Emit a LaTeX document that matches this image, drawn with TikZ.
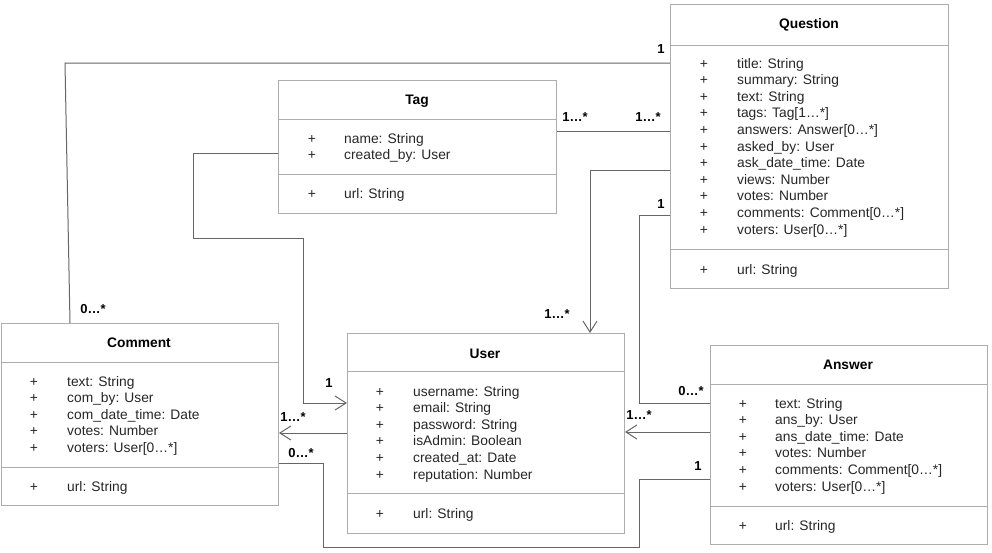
\documentclass[tikz,border=0pt]{standalone}
\usepackage{fontspec}
\setmainfont{Liberation Sans}
\usetikzlibrary{arrows.meta}
\definecolor{boxgray}{HTML}{ADADAD}
\definecolor{linkgray}{HTML}{666666}

\begin{document}
\begin{tikzpicture}[x=1pt, y=-1pt, font=\fontsize{13.8}{16.6}\selectfont]
  \tikzset{ClassStyle/.style={draw=boxgray, line width=1pt, anchor=north west,
      inner sep=0pt}}
  \tikzset{Divider/.style={draw=boxgray, line width=1pt}}
  \tikzset{TitleStyle/.style={anchor=base, inner sep=0pt, font=\fontsize{13.8}{16.6}\selectfont\bfseries}}
  \tikzset{AttrStyle/.style={anchor=base west, inner sep=0pt, text=black!85}}
  \tikzset{PlusStyle/.style={anchor=base, inner sep=0pt, text=black!85}}
  \tikzset{Link/.style={draw=linkgray, line width=1pt}}
  \tikzset{Open/.style={-{Straight Barb[length=11pt, width=14pt]}}}
  \tikzset{Mult/.style={inner sep=0pt, font=\fontsize{13}{15}\selectfont\bfseries}}

  \useasboundingbox (0,0) rectangle (992,552);

  % Question
  \node[ClassStyle, minimum width=278pt, minimum height=284pt] (question) at (670,4) {};
  \node[TitleStyle] (question-name) at (809,28) {Question};
  \draw[Divider] (question.west |- 0,45) -- (question.east |- 0,45);
  \draw[Divider] (question.west |- 0,249) -- (question.east |- 0,249);
  \foreach \a [count=\i from 0] in {title: String, summary: String, text: String,
      {tags: Tag[1…*]}, {answers: Answer[0…*]}, asked\_by: User, ask\_date\_time: Date,
      views: Number, votes: Number, {comments: Comment[0…*]}, {voters: User[0…*]}}
    {\node[PlusStyle] (question-p\i) at (704,68+16.6*\i) {+};
     \node[AttrStyle] (question-a\i) at (737,68+16.6*\i) {\a};}
  \node[PlusStyle] (question-pm) at (704,274) {+};
  \node[AttrStyle] (question-m) at (737,274) {url: String};

  % Tag
  \node[ClassStyle, minimum width=278pt, minimum height=133pt] (tag) at (278,80) {};
  \node[TitleStyle] (tag-name) at (417,104) {Tag};
  \draw[Divider] (tag.west |- 0,119) -- (tag.east |- 0,119);
  \draw[Divider] (tag.west |- 0,174) -- (tag.east |- 0,174);
  \foreach \a [count=\i from 0] in {name: String, created\_by: User}
    {\node[PlusStyle] (tag-p\i) at (312,143+16.6*\i) {+};
     \node[AttrStyle] (tag-a\i) at (344,143+16.6*\i) {\a};}
  \node[PlusStyle] (tag-pm) at (312,198) {+};
  \node[AttrStyle] (tag-m) at (344,198) {url: String};

  % Comment
  \node[ClassStyle, minimum width=277.5pt, minimum height=182pt] (comment) at (0.5,323) {};
  \node[TitleStyle] (comment-name) at (139,347) {Comment};
  \draw[Divider] (comment.west |- 0,362) -- (comment.east |- 0,362);
  \draw[Divider] (comment.west |- 0,467) -- (comment.east |- 0,467);
  \foreach \a [count=\i from 0] in {text: String, com\_by: User, com\_date\_time: Date,
      votes: Number, {voters: User[0…*]}}
    {\node[PlusStyle] (comment-p\i) at (34,386+16.6*\i) {+};
     \node[AttrStyle] (comment-a\i) at (67,386+16.6*\i) {\a};}
  \node[PlusStyle] (comment-pm) at (34,491) {+};
  \node[AttrStyle] (comment-m) at (67,491) {url: String};

  % User
  \node[ClassStyle, minimum width=277pt, minimum height=200pt] (user) at (347,333) {};
  \node[TitleStyle] (user-name) at (485,358) {User};
  \draw[Divider] (user.west |- 0,371) -- (user.east |- 0,371);
  \draw[Divider] (user.west |- 0,493) -- (user.east |- 0,493);
  \foreach \a [count=\i from 0] in {username: String, email: String, password: String,
      isAdmin: Boolean, created\_at: Date, reputation: Number}
    {\node[PlusStyle] (user-p\i) at (380,396+16.6*\i) {+};
     \node[AttrStyle] (user-a\i) at (413,396+16.6*\i) {\a};}
  \node[PlusStyle] (user-pm) at (380,518) {+};
  \node[AttrStyle] (user-m) at (413,518) {url: String};

  % Answer
  \node[ClassStyle, minimum width=277pt, minimum height=199pt] (answer) at (710,345) {};
  \node[TitleStyle] (answer-name) at (848,369) {Answer};
  \draw[Divider] (answer.west |- 0,384) -- (answer.east |- 0,384);
  \draw[Divider] (answer.west |- 0,506) -- (answer.east |- 0,506);
  \foreach \a [count=\i from 0] in {text: String, ans\_by: User, ans\_date\_time: Date,
      votes: Number, {comments: Comment[0…*]}, {voters: User[0…*]}}
    {\node[PlusStyle] (answer-p\i) at (743,408+16.6*\i) {+};
     \node[AttrStyle] (answer-a\i) at (775,408+16.6*\i) {\a};}
  \node[PlusStyle] (answer-pm) at (743,530) {+};
  \node[AttrStyle] (answer-m) at (775,530) {url: String};

  % associations
  \draw[Link] (question.west |- 0,63) -- (65,63) -- (comment.north -| 70,0);
  \node[Mult] (m-qc1) at (661,49) {1};
  \node[Mult] (m-qc2) at (93,309) {0…*};

  \draw[Link] (tag.east |- 0,131) -- (question.west |- 0,131);
  \node[Mult] (m-tq1) at (575,117) {1…*};
  \node[Mult] (m-tq2) at (648,117) {1…*};

  \draw[Link, Open] (tag.west |- 0,153) -| (193,238) -| (303,403) -- (user.west |- 0,403);
  \node[Mult] (m-tu) at (329,383) {1};

  \draw[Link, Open] (question.west |- 0,170) -| (user.north -| 590,0);
  \node[Mult] (m-qu) at (557,314) {1…*};

  \draw[Link] (question.west |- 0,215) -| (639,403) -- (answer.west |- 0,403);
  \node[Mult] (m-qa1) at (661,204) {1};
  \node[Mult] (m-qa2) at (691,391) {0…*};

  \draw[Link, Open] (user.west |- 0,433) -- (comment.east |- 0,433);
  \node[Mult] (m-uc1) at (293,417) {1…*};
  \node[Mult] (m-uc2) at (301,453) {0…*};

  \draw[Link, Open] (answer.west |- 0,432) -- (user.east |- 0,432);
  \node[Mult] (m-au) at (639,415) {1…*};

  \draw[Link] (answer.west |- 0,479) -| (639,547) -| (323,463) -- (comment.east |- 0,463);
  \node[Mult] (m-ac) at (698,466) {1};
\end{tikzpicture}
\end{document}
